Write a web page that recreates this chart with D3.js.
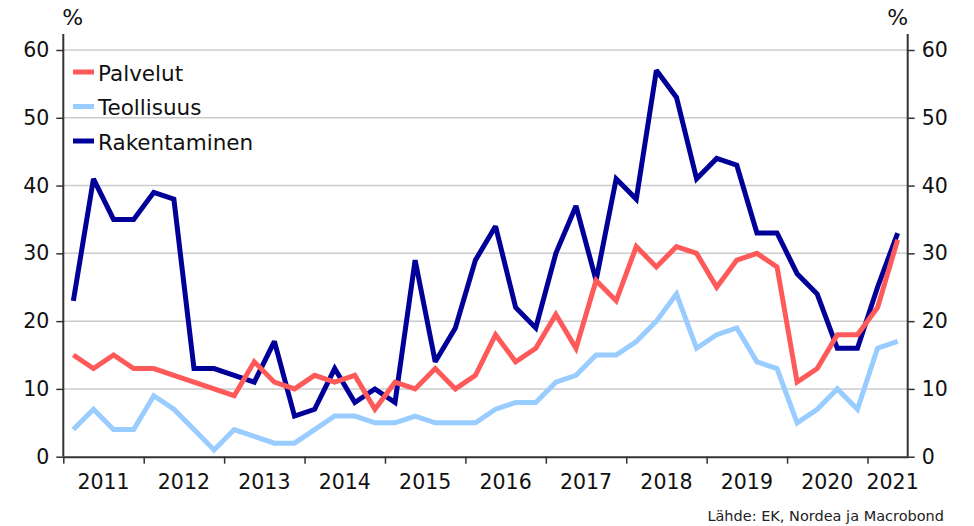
<!DOCTYPE html>
<html>
<head>
<meta charset="utf-8">
<script src="https://cdn.jsdelivr.net/npm/d3@7"></script>
<style>
  html, body { margin: 0; padding: 0; background: #fff; }
  svg { display: block; font-family: "DejaVu Sans", sans-serif; }
</style>
</head>
<body>
<div id="chart"></div>
<script>
// Quarterly observations, 2011Q1 .. 2021Q2
const quarters = [
  "2011Q1","2011Q2","2011Q3","2011Q4","2012Q1","2012Q2","2012Q3","2012Q4",
  "2013Q1","2013Q2","2013Q3","2013Q4","2014Q1","2014Q2","2014Q3","2014Q4",
  "2015Q1","2015Q2","2015Q3","2015Q4","2016Q1","2016Q2","2016Q3","2016Q4",
  "2017Q1","2017Q2","2017Q3","2017Q4","2018Q1","2018Q2","2018Q3","2018Q4",
  "2019Q1","2019Q2","2019Q3","2019Q4","2020Q1","2020Q2","2020Q3","2020Q4",
  "2021Q1","2021Q2"
];
const years = [2011, 2012, 2013, 2014, 2015, 2016, 2017, 2018, 2019, 2020, 2021];
const yTicks = [0, 10, 20, 30, 40, 50, 60];

const palvelut = [15,13,15,13,13,12,11,10, 9,14,11,10,12,11,12, 7,
                  11,10,13,10,12,18,14,16,21,16,26,23,31,28,31,30,
                  25,29,30,28,11,13,18,18,22,32];
const teollisuus = [4, 7, 4, 4, 9, 7, 4, 1, 4, 3, 2, 2, 4, 6, 6, 5,
                    5, 6, 5, 5, 5, 7, 8, 8,11,12,15,15,17,20,24,16,
                    18,19,14,13, 5, 7,10, 7,16,17];
const rakentaminen = [23,41,35,35,39,38,13,13,12,11,17, 6, 7,13, 8,10,
                      8,29,14,19,29,34,22,19,30,37,26,41,38,57,53,41,
                      44,43,33,33,27,24,16,16,25,33];

const series = [
  { name: "Rakentaminen", values: rakentaminen, color: "#000099" },
  { name: "Teollisuus",   values: teollisuus,   color: "#99ccff" },
  { name: "Palvelut",     values: palvelut,     color: "#ff5a5a" }
];
const legendOrder = ["Palvelut", "Teollisuus", "Rakentaminen"];

const W = 974, H = 526;
const plotL = 63.3, plotR = 907.7, plotT = 50, plotB = 456.7;

const svg = d3.select("#chart").append("svg")
  .attr("width", W).attr("height", H);
svg.append("rect").attr("width", W).attr("height", H).attr("fill", "#fff");

// quarter index scale: 0 = start of 2011, 42 = end of 2021Q2
const x = d3.scaleLinear().domain([0, quarters.length]).range([plotL, plotR]);
const y = d3.scaleLinear().domain([0, 60]).range([plotB, plotT]);

// grid
svg.append("g").selectAll("line")
  .data(yTicks.filter(d => d > 0))
  .enter().append("line")
    .attr("x1", plotL).attr("x2", plotR)
    .attr("y1", d => y(d)).attr("y2", d => y(d))
    .attr("stroke", "#cccccc").attr("stroke-width", 1.5);

// axes
const axisColor = "#333";
const axL = svg.append("g").attr("transform", `translate(${plotL},0)`)
  .call(d3.axisLeft(y).tickValues(yTicks).tickSize(7).tickPadding(7).tickSizeOuter(0));
const axR = svg.append("g").attr("transform", `translate(${plotR},0)`)
  .call(d3.axisRight(y).tickValues(yTicks).tickSize(7).tickPadding(7).tickSizeOuter(0));
[axL, axR].forEach(ax => {
  ax.select(".domain").attr("d", `M0,${plotB}V34`).attr("stroke", axisColor).attr("stroke-width", 2);
  ax.selectAll(".tick line").attr("stroke", axisColor).attr("stroke-width", 1.5);
  ax.selectAll(".tick text").attr("fill", "#111").style("font-size", "20.5px")
    .attr("font-family", "DejaVu Sans, sans-serif");
});

// bottom axis with year-boundary ticks
const axB = svg.append("g").attr("transform", `translate(0,${plotB})`)
  .call(d3.axisBottom(x).tickValues(years.map((yr, i) => i * 4)).tickSize(7).tickFormat("").tickSizeOuter(0));
axB.select(".domain").attr("stroke", axisColor).attr("stroke-width", 2);
axB.selectAll(".tick line").attr("stroke", axisColor).attr("stroke-width", 1.5);

svg.append("g").selectAll("text")
  .data(years)
  .enter().append("text")
    .attr("x", (d, i) => x(Math.min(i * 4 + 2, 41.25)))
    .attr("y", 489)
    .attr("text-anchor", "middle")
    .attr("fill", "#111")
    .style("font-size", "20.5px")
    .text(d => d);

// % labels
svg.append("text").attr("x", x(0) + 9.5).attr("y", 25).attr("text-anchor", "middle")
  .attr("fill", "#111").style("font-size", "22px").text("%");
svg.append("text").attr("x", x(quarters.length) - 10).attr("y", 25).attr("text-anchor", "middle")
  .attr("fill", "#111").style("font-size", "22px").text("%");

// lines
const line = d3.line()
  .x((d, i) => x(i + 0.5))
  .y(d => y(d));

svg.append("g").selectAll("path")
  .data(series)
  .enter().append("path")
    .attr("d", d => line(d.values))
    .attr("fill", "none")
    .attr("stroke", d => d.color)
    .attr("stroke-width", 5)
    .attr("stroke-linejoin", "miter")
    .attr("stroke-miterlimit", 2.5);

// legend
const lg = svg.append("g").attr("transform", "translate(73,72)");
legendOrder.forEach((name, i) => {
  const s = series.find(d => d.name === name);
  const g = lg.append("g").attr("transform", `translate(0,${i * 34.5})`);
  g.append("line").attr("x1", 0).attr("x2", 21).attr("y1", 0).attr("y2", 0)
    .attr("stroke", s.color).attr("stroke-width", 5);
  g.append("text").attr("x", 25).attr("y", 8.5)
    .attr("fill", "#111").style("font-size", "21.5px").text(name);
});

// source
svg.append("text").attr("x", 944).attr("y", 521).attr("text-anchor", "end")
  .attr("fill", "#222").style("font-size", "14.5px")
  .text("Lähde: EK, Nordea ja Macrobond");
</script>
</body>
</html>
